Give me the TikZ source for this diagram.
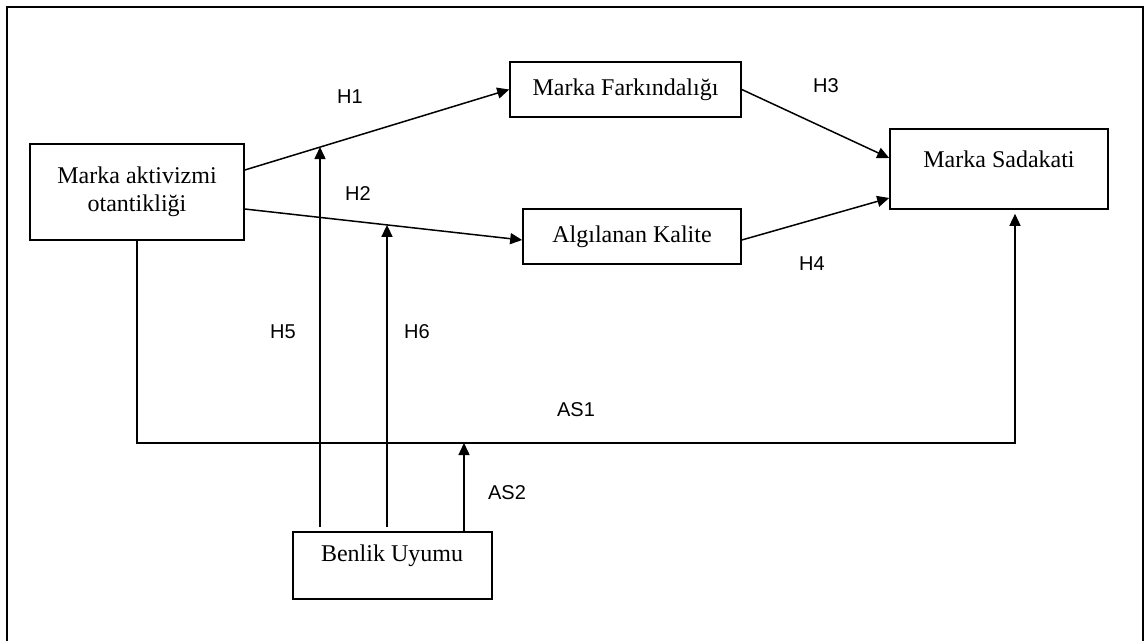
\documentclass[tikz,border=0pt]{standalone}
\usepackage{fontspec}
\setmainfont{Liberation Serif}
\newfontfamily\lblfont{Liberation Sans}
\usetikzlibrary{arrows.meta,calc}
\tikzset{
  box/.style={draw, line width=1.6pt, inner sep=0pt, font=\fontsize{24}{28}\selectfont, align=center},
  btext/.style={inner sep=0pt, font=\fontsize{24}{28}\selectfont},
  lbl/.style={inner sep=0pt, font=\lblfont\fontsize{20}{23}\selectfont},
  conn/.style={line width=1.5pt, draw=black},
  arr/.style={conn, -{Triangle[length=12pt,width=11pt]}},
  frame/.style={line width=2.5pt}
}
\begin{document}
\begin{tikzpicture}[x=1pt,y=-1pt]
\useasboundingbox (0,0) rectangle (1145,641);
\fill[white] (0,0) rectangle (1145,641);
% outer frame (open at the bottom)
\coordinate (fbl) at (7,641);
\coordinate (ftl) at (7,7);
\coordinate (ftr) at (1143,7);
\coordinate (fbr) at (1143,641);
\draw[frame] (fbl) -- (ftl) -- (ftr) -- (fbr);

% boxes
\node[box, minimum width=214pt, minimum height=96pt] (A) at (137,192) {Marka aktivizmi\\otantikliği};
\node[box, minimum width=231pt, minimum height=55pt] (F) at (625.5,89.5) {Marka Farkındalığı};
\node[box, minimum width=218pt, minimum height=55pt] (K) at (632,236.5) {Algılanan Kalite};
\node[box, minimum width=218pt, minimum height=80pt] (S) at (999,169) {};
\node[btext] (St) at (999,159) {Marka Sadakati};
\node[box, minimum width=199pt, minimum height=67pt] (B) at (392.5,565.5) {};
\node[btext] (Bt) at (392,556) {Benlik Uyumu};

% named connector ends
\coordinate (h1s) at ([yshift=22pt]A.east);
\coordinate (h2s) at ([yshift=-17pt]A.east);
\coordinate (h2e) at ([yshift=-3.5pt]K.west);
\coordinate (h3e) at ([yshift=11pt]S.west);
\coordinate (h4e) at ([yshift=-29pt]S.west);
\coordinate (ase) at ([xshift=16pt,yshift=-4pt]S.south);
\coordinate (asY) at (0,443);
\coordinate (h5s) at ([xshift=-72.5pt,yshift=4pt]B.north);
\coordinate (h6s) at ([xshift=-5.5pt,yshift=4pt]B.north);
\coordinate (as2s) at ([xshift=71.5pt]B.north);
\coordinate (h5e) at ($(h1s)!{(320-244)/266}!(F.west)$);
\coordinate (h6e) at ($(h2s)!{(387-244)/279}!(h2e)$);

% main paths
\draw[arr] (h1s) -- (F.west);
\draw[arr] (h2s) -- (h2e);
\draw[arr] (F.east) -- (h3e);
\draw[arr] ([yshift=-3.5pt]K.east) -- (h4e);
\draw[arr] (A.south) |- (ase |- asY) -- (ase);

% moderating paths
\draw[arr] (h5s) -- (h5s |- h5e);
\draw[arr] (h6s) -- (h6s |- h6e);
\draw[arr] (B.north -| as2s) -- (as2s |- asY);

% labels
\node[lbl] (lH1) at (350,97) {H1};
\node[lbl] (lH2) at (358,194) {H2};
\node[lbl] (lH3) at (826,86) {H3};
\node[lbl] (lH4) at (812,264) {H4};
\node[lbl] (lH5) at (283,332) {H5};
\node[lbl] (lH6) at (417,332) {H6};
\node[lbl] (lAS1) at (576,410) {AS1};
\node[lbl] (lAS2) at (507,493) {AS2};
\end{tikzpicture}
\end{document}
